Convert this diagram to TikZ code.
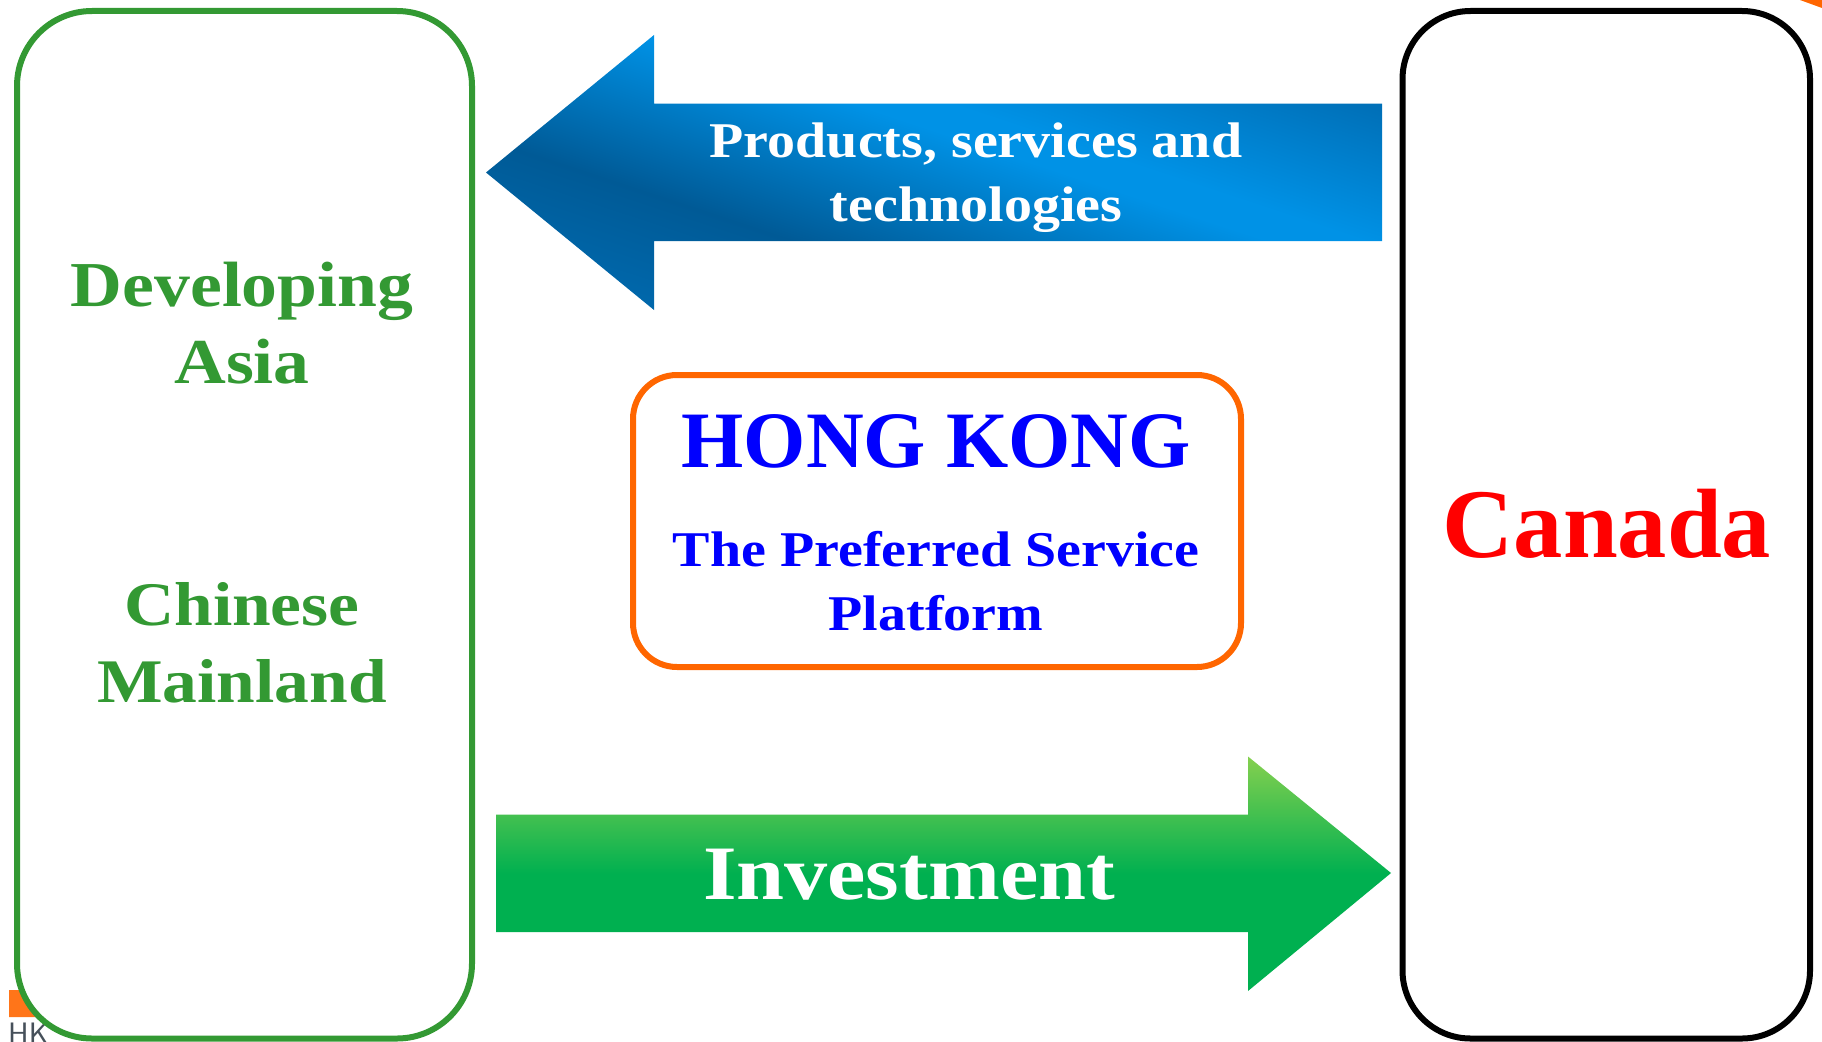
\documentclass[tikz,border=0pt]{standalone}
\usepackage{fontspec}
\setmainfont{Liberation Serif}
\newfontfamily\wideserif[FakeStretch=1.12]{Liberation Serif}
\definecolor{boxgreen}{HTML}{339933}
\definecolor{hkorange}{HTML}{FF6600}
\definecolor{hkblue}{HTML}{0000FF}
\definecolor{logoink}{HTML}{46505A}
\definecolor{bluea}{HTML}{0070B8}
\definecolor{blueb}{HTML}{0092E6}
\definecolor{bluec}{HTML}{005A96}
\definecolor{blued}{HTML}{0068AC}
\definecolor{greena}{HTML}{00B050}
\definecolor{greenb}{HTML}{85D04F}
\pgfdeclareverticalshading{blueband}{100bp}{
  color(0bp)=(bluea);
  color(40bp)=(bluea);
  color(46.5bp)=(blueb);
  color(48bp)=(blueb);
  color(55.5bp)=(bluec);
  color(61bp)=(blued);
  color(100bp)=(blued)}
\pgfdeclareverticalshading{greenband}{100bp}{
  color(0bp)=(greena);
  color(50bp)=(greena);
  color(75bp)=(greenb);
  color(100bp)=(greenb)}
\tikzset{
  x=1pt,y=-1pt,
  panel/.style={draw,line width=6pt,fill=white,rounded corners=#1},
  sidelabel/.style={align=center,inner sep=0pt,text=boxgreen,font=\wideserif\bfseries\fontsize{#1}{77}\selectfont},
  arrowtext/.style={align=center,inner sep=0pt,text=white,font=\wideserif\bfseries\fontsize{50}{64}\selectfont},
}
\begin{document}
\begin{tikzpicture}
\useasboundingbox (0,0) rectangle (1822,1041);
% logo fragments lying behind the panels
\fill[hkorange!90!white] (9,1017) -- (9,990) -- (28,990) -- (38,1017) -- cycle;
\node[anchor=base west,inner sep=0pt,text=logoink,font=\sffamily\fontsize{31}{31}\selectfont] (logotext) at (8,1044.5) {HK};
\fill[hkorange] (1800,0) -- (1822,0) -- (1822,8) -- cycle;
% panels
\node[panel=75pt,draw=boxgreen,minimum width=455pt,minimum height=1027.5pt,inner sep=0pt] (asia) at (244.5,1038.5-513.75) {};
\node[panel=68pt,draw=black,minimum width=407.5pt,minimum height=1027.5pt,inner sep=0pt] (canada) at (1606.25,1038.5-513.75) {};
\node[panel=44pt,draw=hkorange,minimum width=608pt,minimum height=292pt,inner sep=0pt] (hk) at (937,521) {};
% blue arrow
\begin{scope}
\clip (486,172.5) -- (654,35) -- (654,103.5) -- (1382,103.5) -- (1382,241) -- (654,241) -- (654,310) -- cycle;
\shade[shading=blueband,shading angle=161.7] (434,-328) rectangle (1434,672);
\end{scope}
% green arrow
\shade[shading=greenband] (496,814.5) -- (1248,814.5) -- (1248,756.5) -- (1391,873) -- (1248,991) -- (1248,932) -- (496,932) -- cycle;
% labels
\node[sidelabel=64] (devasia) at (242,323.5) {Developing\\Asia};
\node[sidelabel=62] (mainland) at (242,643) {Chinese\\Mainland};
\node[arrowtext] (products) at (976,178) {Products, services and\\technologies};
\node[align=center,inner sep=0pt,text=white,font=\wideserif\bfseries\fontsize{77}{90}\selectfont] (invest) at (909,875) {Investment};
\node[inner sep=0pt,text=hkblue,font=\bfseries\fontsize{80}{90}\selectfont] (hktitle) at (936,441) {HONG KONG};
\node[align=center,inner sep=0pt,text=hkblue,font=\wideserif\bfseries\fontsize{50}{64}\selectfont] (hksub) at (936,581) {The Preferred Service\\Platform};
\node[inner sep=0pt,text=red,font=\bfseries\fontsize{98.5}{100}\selectfont] (canlabel) at (1607,524) {Canada};
\end{tikzpicture}
\end{document}
